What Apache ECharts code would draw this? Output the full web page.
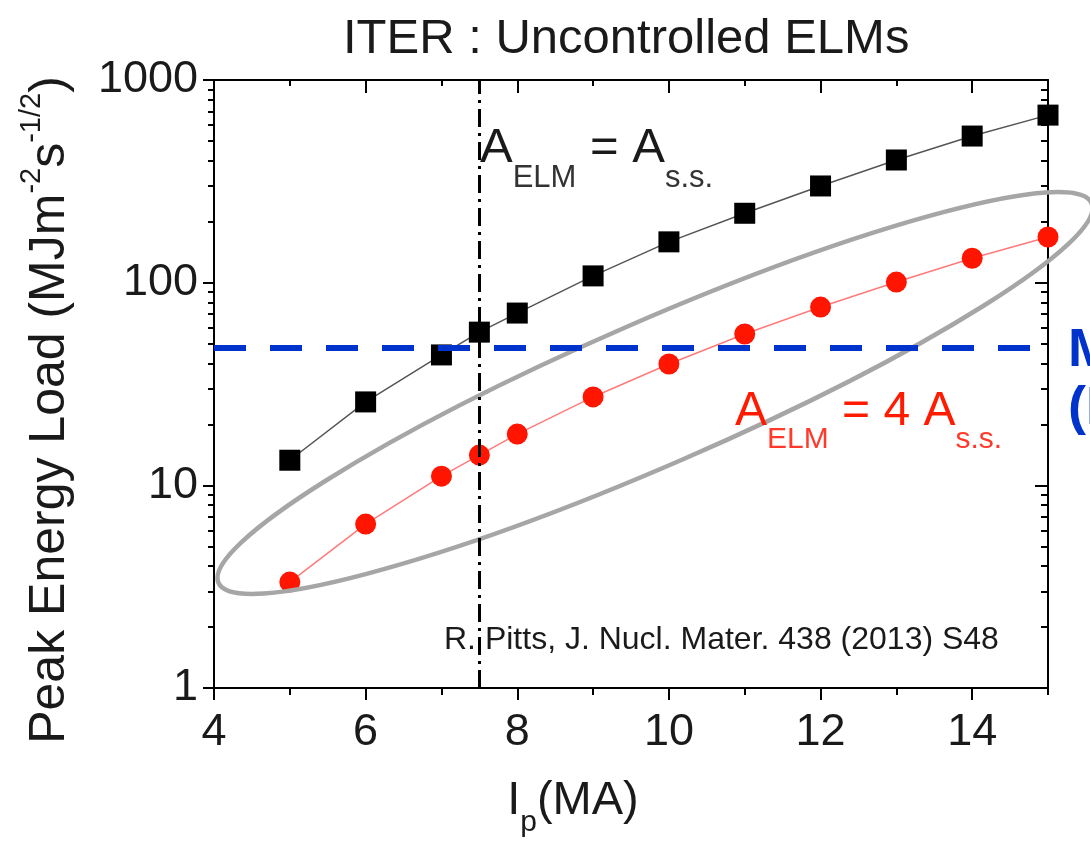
<!DOCTYPE html>
<html>
<head>
<meta charset="utf-8">
<script src="https://cdn.jsdelivr.net/npm/echarts@6/dist/echarts.min.js"></script>
<style>
  html, body { margin: 0; padding: 0; background: #fff; }
  #chart { width: 1090px; height: 854px; }
</style>
</head>
<body>
<div id="chart"></div>
<script>
// plasma current (MA)
const ipValues = [5, 6, 7, 7.5, 8, 9, 10, 11, 12, 13, 14, 15]
// peak energy load, A_ELM = A_s.s.
const loadSteady = [13.3, 25.8, 44, 57, 70.8, 108, 159, 220, 300, 403, 529, 671]
// peak energy load, A_ELM = 4 A_s.s.
const loadFour = [3.33, 6.44, 11.1, 14.1, 17.9, 27.3, 39.7, 55.8, 75.8, 100.7, 132, 168]
const meltLimit = 48
const ipMarker = 7.5

const xMajorTicks = [4, 6, 8, 10, 12, 14]
const xMinorTicks = [5, 7, 9, 11, 13, 15]
const yMinorTicks = [2, 3, 4, 5, 6, 7, 8, 9, 20, 30, 40, 50, 60, 70, 80, 90, 200, 300, 400, 500, 600, 700, 800, 900]

const FONT = 'Liberation Sans, Arial, sans-serif'
const INK = '#1a1a1a'

const chart = echarts.init(document.getElementById('chart'))

const pairs = vals => ipValues.map((x, i) => [x, vals[i]])
const yMinorLog = yMinorTicks.map(v => Math.log10(v))

// helper for tick-only axes
const tickAxis = (type, position, ticks, len, inside, extra) => Object.assign({
  type: type,
  position: position,
  axisLine: { show: false },
  axisTick: { show: true, inside: inside, length: len, customValues: ticks, lineStyle: { color: '#000', width: 2 } },
  axisLabel: { show: false },
  splitLine: { show: false }
}, extra)

const option = {
  animation: false,
  backgroundColor: '#fff',
  title: {
    text: 'ITER : Uncontrolled ELMs',
    left: 338,
    top: 10,
    textStyle: { fontFamily: FONT, fontSize: 49, fontWeight: 'normal', color: INK }
  },
  grid: { left: 214, top: 80, right: 42, bottom: 166 },
  xAxis: [
    {
      type: 'value',
      min: 4,
      max: 15,
      position: 'bottom',
      axisLine: { show: true, lineStyle: { color: '#000', width: 2 } },
      axisTick: { show: true, length: 12, customValues: xMajorTicks, lineStyle: { color: '#000', width: 2 } },
      axisLabel: { customValues: xMajorTicks, fontFamily: FONT, fontSize: 45, color: INK, margin: 22 },
      splitLine: { show: false },
      name: '{i|I}{p|p}{i|(MA)}',
      nameLocation: 'middle',
      nameGap: 76,
      nameTextStyle: {
        padding: [0, 116, 0, 0],
        rich: {
          i: { fontFamily: FONT, fontSize: 47, color: INK },
          p: { fontFamily: FONT, fontSize: 30, color: INK, padding: [44, 0, 0, 0] }
        }
      }
    },
    Object.assign(tickAxis('value', 'bottom', xMinorTicks, 7, false), { min: 4, max: 15 }),
    Object.assign(tickAxis('value', 'top', xMajorTicks, 13, true), {
      min: 4, max: 15, axisLine: { show: true, lineStyle: { color: '#000', width: 2 } }
    }),
    Object.assign(tickAxis('value', 'top', xMinorTicks, 6, true), { min: 4, max: 15 })
  ],
  yAxis: [
    {
      type: 'log',
      logBase: 10,
      min: 1,
      max: 1000,
      position: 'left',
      axisLine: { show: true, lineStyle: { color: '#000', width: 2 } },
      axisTick: { show: true, length: 11, lineStyle: { color: '#000', width: 2 } },
      axisLabel: { fontFamily: FONT, fontSize: 45, color: INK, margin: 16, formatter: v => String(v) },
      splitLine: { show: false },
      minorTick: { show: false },
      name: '{a|Peak Energy Load (MJm}{u|-2}{a|s}{u|-1/2}{a|)}',
      nameLocation: 'middle',
      nameGap: 130,
      nameTextStyle: {
        padding: [0, 52, 0, 0],
        rich: {
          a: { fontFamily: FONT, fontSize: 50, color: INK },
          u: { fontFamily: FONT, fontSize: 29, color: INK, padding: [0, 0, 38, 0] }
        }
      }
    },
    Object.assign(tickAxis('value', 'left', yMinorLog, 6, false), { min: 0, max: 3 }),
    Object.assign(tickAxis('log', 'right', null, 13, true), {
      logBase: 10, min: 1, max: 1000,
      axisLine: { show: true, lineStyle: { color: '#000', width: 2 } }
    }),
    Object.assign(tickAxis('value', 'right', yMinorLog, 7, true), { min: 0, max: 3 })
  ],
  graphic: [
    // grey highlight ellipse round the 4x series
    {
      type: 'ellipse',
      x: 655,
      y: 393,
      rotation: 0.41,
      z: 5,
      shape: { cx: 0, cy: 0, rx: 476, ry: 72 },
      style: { fill: 'none', stroke: '#a6a6a6', lineWidth: 4.5 }
    },
    {
      type: 'text',
      left: 480,
      top: 124,
      z: 6,
      style: {
        text: '{a|A}{s|ELM}{a| = A}{s|s.s.}',
        rich: {
          a: { fontFamily: FONT, fontSize: 49, fill: INK },
          s: { fontFamily: FONT, fontSize: 31, fill: '#333', padding: [60, 0, 0, 0] }
        }
      }
    },
    {
      type: 'text',
      left: 735,
      top: 388,
      z: 6,
      style: {
        text: '{a|A}{s|ELM}{a| = 4 A}{s|s.s.}',
        rich: {
          a: { fontFamily: FONT, fontSize: 48, fill: '#ff1a00' },
          s: { fontFamily: FONT, fontSize: 30, fill: '#ff3a2a', padding: [56, 0, 0, 0] }
        }
      }
    },
    {
      type: 'text',
      left: 444,
      top: 624,
      z: 6,
      style: { text: 'R. Pitts, J. Nucl. Mater. 438 (2013) S48', fontFamily: FONT, fontSize: 32, fill: INK }
    },
    {
      type: 'text',
      left: 1068,
      top: 322,
      z: 6,
      style: { text: 'Melting\n(Be)', fontFamily: FONT, fontSize: 54, fontWeight: 'bold', lineHeight: 58, fill: '#0033cc' }
    }
  ],
  series: [
    {
      name: 'A_ELM = A_s.s.',
      type: 'line',
      xAxisIndex: 0,
      yAxisIndex: 0,
      data: pairs(loadSteady),
      symbol: 'rect',
      symbolSize: 21,
      itemStyle: { color: '#000' },
      lineStyle: { color: '#555', width: 1.5 },
      z: 3,
      markLine: {
        silent: true,
        symbol: 'none',
        label: { show: false },
        lineStyle: { color: '#000', width: 3, type: [18, 6, 3, 6] },
        data: [{ xAxis: ipMarker }]
      }
    },
    {
      name: 'A_ELM = 4 A_s.s.',
      type: 'line',
      xAxisIndex: 0,
      yAxisIndex: 0,
      data: pairs(loadFour),
      symbol: 'circle',
      symbolSize: 21,
      itemStyle: { color: '#ff1500' },
      lineStyle: { color: '#ff7a7a', width: 1.5 },
      z: 3,
      markLine: {
        silent: true,
        symbol: 'none',
        label: { show: false },
        lineStyle: { color: '#0033cc', width: 6, type: [32, 24] },
        data: [{ yAxis: meltLimit }]
      }
    }
  ]
}

chart.setOption(option)
</script>
</body>
</html>
